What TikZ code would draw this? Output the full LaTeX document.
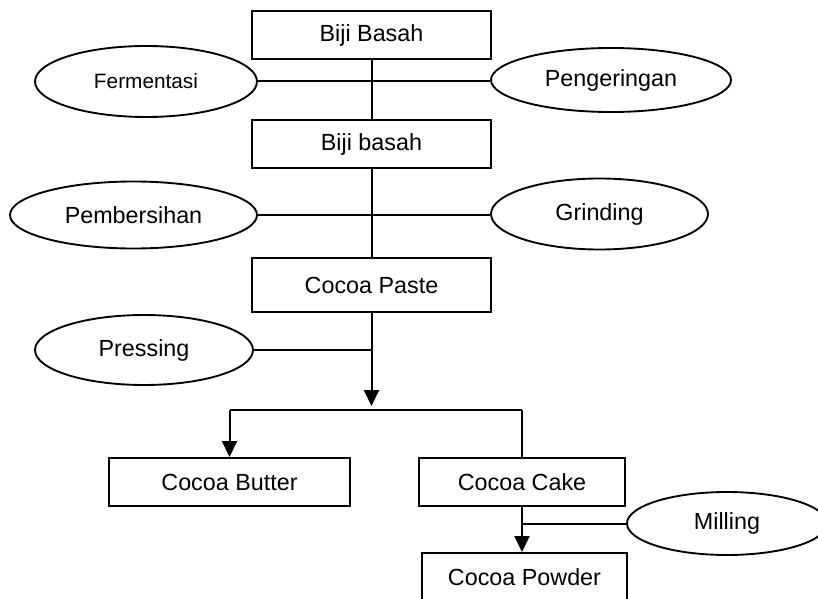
\documentclass[tikz,border=0pt]{standalone}
\usepackage{fontspec}
\setmainfont{Liberation Sans}
\usetikzlibrary{arrows.meta,shapes.geometric}

\tikzset{
  flowline/.style={line width=1.5pt, black},
  flowarrow/.style={flowline, -{Triangle[length=12pt,width=11.25pt]}},
  stagebox/.style={draw, line width=1.5pt, rectangle, inner sep=0pt,
    minimum height=36pt, font=\fontsize{17.5}{20}\selectfont},
  process/.style={draw, line width=1.4pt, ellipse, inner sep=0pt,
    font=\fontsize{17.5}{20}\selectfont},
}

\begin{document}
\begin{tikzpicture}[x=0.75pt, y=-0.75pt]
  \useasboundingbox (0,0) rectangle (818,599);
  \clip (0,0) rectangle (818,599);

  % main stages
  \node[stagebox, minimum width=179.25pt] (b1) at (371.5,35) {Biji Basah};
  \node[stagebox, minimum width=179.25pt] (b2) at (371.5,144) {Biji basah};
  \node[stagebox, minimum width=179.25pt, minimum height=40.5pt] (b3) at (371.5,285) {Cocoa Paste};
  \node[stagebox, minimum width=180.4pt] (butter) at (229.5,482) {Cocoa Butter};
  \node[stagebox, minimum width=154.5pt] (cake) at (522,482) {Cocoa Cake};
  \node[stagebox, minimum width=153.75pt] (powder) at (524.5,577) {Cocoa Powder};

  % processes
  \node[process, minimum width=166.5pt, minimum height=53.25pt,
        font=\fontsize{15.6}{18}\selectfont] (ferm) at (146,81.5) {Fermentasi};
  \node[process, minimum width=180pt, minimum height=48pt] (peng) at (611,80) {Pengeringan};
  \node[process, minimum width=185.25pt, minimum height=50.25pt] (pemb) at (133.5,215) {Pembersihan};
  \node[process, minimum width=162.75pt, minimum height=53.25pt] (grind) at (599.5,214) {Grinding};
  \node[process, minimum width=163.5pt, minimum height=52.5pt] (press) at (144,350) {Pressing};
  \node[process, minimum width=150pt, minimum height=47.25pt] (mill) at (727,523.5) {Milling};

  % helper points
  \coordinate (tip) at (371.5,406);
  \coordinate (fork) at (371.5,410);

  % connectors
  \draw[flowline] (b1.south) -- (b2.north);
  \draw[flowline] (ferm.east) -- (ferm.east -| peng.west);
  \draw[flowline] (b2.south) -- (b3.north);
  \draw[flowline] (pemb.east) -- (pemb.east -| grind.west);
  \draw[flowarrow] (b3.south) -- (tip);
  \draw[flowline] (press.east) -- (press.east -| b3.south);
  \draw[flowline] (butter.north |- fork) -- (cake.north |- fork);
  \draw[flowarrow] (butter.north |- fork) -- (butter.north);
  \draw[flowline] (cake.north |- fork) -- (cake.north);
  \draw[flowarrow] (cake.south) -- (cake.south |- powder.north);
  \draw[flowline] (mill.west) -- (mill.west -| cake.south);
\end{tikzpicture}
\end{document}
